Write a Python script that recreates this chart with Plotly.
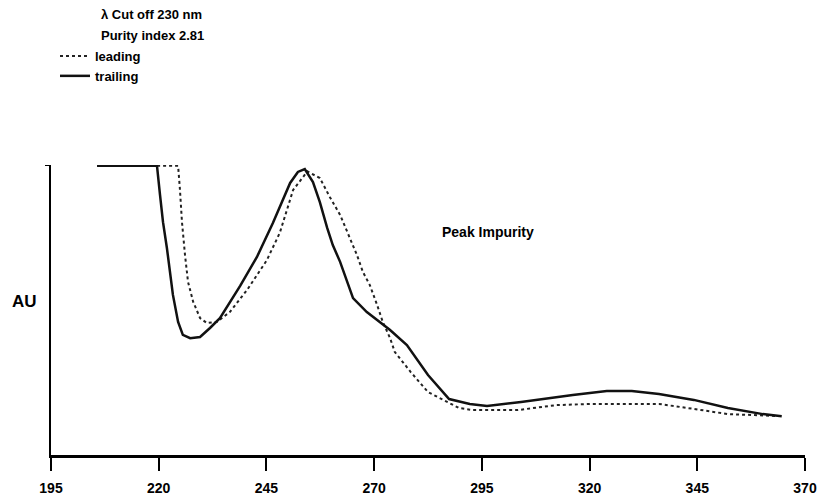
import plotly.graph_objects as go

# Wavelength (nm) and absorbance (AU, normalised)
trailing_nm = [205.7, 219.6, 220.3, 221.0, 221.9, 222.6, 223.3, 224.5, 225.6, 227.3, 229.6,
               231.9, 234.2, 238.9, 242.8, 246.5, 250.5, 252.3, 253.9, 255.8, 257.4, 259.1,
               260.4, 262.1, 263.7, 265.1, 268.3, 271.4, 273.7, 277.6, 282.5, 287.4, 292.2,
               296.2, 304.1, 316.1, 324.0, 329.8, 336.1, 344.2, 352.1, 360.2, 364.6]
trailing_au = [0.997, 0.997, 0.897, 0.803, 0.714, 0.631, 0.552, 0.459, 0.414, 0.403, 0.407,
               0.438, 0.472, 0.583, 0.683, 0.800, 0.938, 0.976, 0.986, 0.941, 0.872, 0.783,
               0.724, 0.666, 0.597, 0.541, 0.493, 0.459, 0.431, 0.379, 0.276, 0.193, 0.176,
               0.169, 0.183, 0.207, 0.221, 0.221, 0.210, 0.190, 0.162, 0.141, 0.134]

leading_nm = [205.7, 224.5, 224.9, 225.4, 226.1, 226.8, 228.0, 229.6, 231.2, 233.5, 236.5,
              240.5, 245.1, 248.1, 251.2, 254.5, 257.4, 259.7, 262.1, 263.7, 266.0, 267.4,
              269.0, 270.7, 272.0, 273.7, 274.8, 278.5, 282.5, 289.7, 292.9, 303.4, 312.2,
              320.1, 336.1, 344.2, 352.1, 364.6]
leading_au = [0.997, 0.997, 0.921, 0.803, 0.690, 0.597, 0.528, 0.472, 0.455, 0.459, 0.493,
              0.569, 0.672, 0.766, 0.914, 0.978, 0.955, 0.890, 0.828, 0.769, 0.690, 0.631,
              0.586, 0.517, 0.459, 0.403, 0.355, 0.286, 0.217, 0.162, 0.155, 0.155, 0.172,
              0.176, 0.176, 0.159, 0.141, 0.134]

x_ticks = [195, 220, 245, 270, 295, 320, 345, 370]

FONT = "Liberation Sans, Arial, sans-serif"
W, H = 819, 493  # page body has an 8px margin

fig = go.Figure()
fig.add_trace(go.Scatter(x=leading_nm, y=leading_au, mode="lines", name="leading",
                         line=dict(color="#222222", width=2, dash="dot")))
fig.add_trace(go.Scatter(x=trailing_nm, y=trailing_au, mode="lines", name="trailing",
                         line=dict(color="#111111", width=2.5)))

fig.update_layout(
    width=W, height=H,
    margin=dict(l=43, r=22, t=157, b=46, autoexpand=False),
    plot_bgcolor="white", paper_bgcolor="white",
    font=dict(family=FONT, color="black", size=14),
    showlegend=True,
    legend=dict(xref="container", yref="container", x=47 / W, y=1 - 33 / H,
                xanchor="left", yanchor="top", traceorder="normal",
                bgcolor="rgba(0,0,0,0)", borderwidth=0, tracegroupgap=0,
                font=dict(family=FONT, size=13, weight="bold"), itemwidth=30),
    xaxis=dict(range=[195, 370], tickvals=x_ticks, ticktext=[str(v) for v in x_ticks],
               showgrid=False, zeroline=False, showline=True, linecolor="black", linewidth=3,
               ticks="outside", ticklen=13, tickwidth=1.5, tickcolor="black",
               ticklabelstandoff=5,
               tickfont=dict(family=FONT, size=14, weight="bold")),
    yaxis=dict(range=[0, 1.0], showgrid=False, zeroline=False, showline=True,
               linecolor="black", linewidth=2, tickvals=[1], ticks="outside", ticklen=4,
               tickcolor="black", showticklabels=False),
    annotations=[
        dict(text="λ Cut off 230 nm", x=0.064, y=1.52, xref="paper", yref="paper",
             xanchor="left", yanchor="middle", showarrow=False,
             font=dict(family=FONT, size=13, weight="bold")),
        dict(text="Purity index 2.81", x=0.064, y=1.448, xref="paper", yref="paper",
             xanchor="left", yanchor="middle", showarrow=False,
             font=dict(family=FONT, size=13, weight="bold")),
        dict(text="Peak Impurity", x=0.516, y=0.769, xref="paper", yref="paper",
             xanchor="left", yanchor="middle", showarrow=False,
             font=dict(family=FONT, size=14, weight="bold")),
        dict(text="AU", x=-0.016, y=0.53, xref="paper", yref="paper",
             xanchor="right", yanchor="middle", showarrow=False,
             font=dict(family=FONT, size=17, weight="bold")),
    ],
)

fig.write_html("out.html")
